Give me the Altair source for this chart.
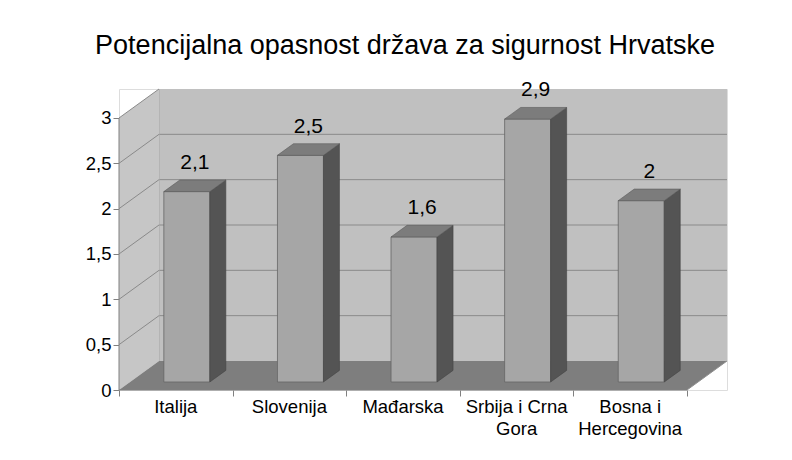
import altair as alt
import pandas as pd

# ---- data ----
categories = ["Italija", "Slovenija", "Mađarska", "Srbija i Crna\nGora", "Bosna i\nHercegovina"]
values = [2.1, 2.5, 1.6, 2.9, 2.0]
value_labels = ["2,1", "2,5", "1,6", "2,9", "2"]
y_ticks = [0, 0.5, 1, 1.5, 2, 2.5, 3]
title_text = "Potencijalna opasnost država za sigurnost Hrvatske"

# ---- pseudo-3D geometry (in scale units) ----
NCAT = len(categories)
YMAX = 3
DX = 40 / 113.6      # depth offset along x (category units)
DY = 29 / 90.67      # depth offset along y (value units)
F1 = 0.276           # bar front plane depth fraction
F2 = 0.40            # bar depth fraction
BW = 46 / 113.6      # bar width

FONT = "Liberation Sans"

xs = alt.Scale(domain=[0, NCAT + DX], nice=False, zero=False)
ys = alt.Scale(domain=[0, YMAX + DY], nice=False, zero=False)

XAX = alt.Axis(values=list(range(NCAT + 1)), labels=False, domain=False, grid=False,
               tickSize=6, tickColor="#808080", title=None)
YAX = alt.Axis(values=y_ticks, domain=False, grid=False, tickSize=6, tickColor="#808080",
               labelExpr="replace(format(datum.value, '~g'), '.', ',')", labelFont=FONT,
               labelFontSize=18.5, labelColor="#000000", labelPadding=2, title=None)


def X(f):
    return alt.X(f, scale=xs, axis=XAX)


def Y(f):
    return alt.Y(f, scale=ys, axis=YAX)


# tables
bars = []
side = []
top = []
for i, (c, v, lab) in enumerate(zip(categories, values, value_labels)):
    x1 = i + 0.5 - BW / 2 + F1 * DX
    x2 = x1 + BW
    y0 = F1 * DY
    bars.append(dict(cat=c, x1=x1, x2=x2, y1=y0, y2=v + y0,
                     lx=i + 0.5 + (F1 + F2 / 2) * DX,
                     ly=v + (F1 + F2) * DY, lab=lab))
    side.append(dict(cat=c, x=x2, y=y0, y2=v + y0))
    side.append(dict(cat=c, x=x2 + F2 * DX, y=y0 + F2 * DY, y2=v + y0 + F2 * DY))
    top.append(dict(cat=c, y=v + y0, x=x1, x2=x2))
    top.append(dict(cat=c, y=v + y0 + F2 * DY, x=x1 + F2 * DX, x2=x2 + F2 * DX))
bars = pd.DataFrame(bars)
side = pd.DataFrame(side)
top = pd.DataFrame(top)
catdf = pd.DataFrame(dict(cat=categories, cx=[i + 0.5 for i in range(NCAT)], y=[0] * NCAT))

wall = pd.DataFrame([dict(x=DX, x2=NCAT + DX, y=DY, y2=YMAX + DY)])
leftwall = pd.DataFrame([dict(x=0, y=0, y2=YMAX), dict(x=DX, y=DY, y2=YMAX + DY)])
floor = pd.DataFrame([dict(y=0, x=0, x2=NCAT), dict(y=DY, x=DX, x2=NCAT + DX)])
grid_vals = [t for t in y_ticks if t > 0]
backgrid = pd.DataFrame([dict(x=DX, x2=NCAT + DX, y=t + DY) for t in grid_vals if t < YMAX])
sidegrid = pd.DataFrame([dict(x=0, x2=DX, y=t, y2=t + DY) for t in grid_vals])
axisdf = pd.DataFrame([dict(x=0, y=0, y2=YMAX)])
frontedge = pd.DataFrame([dict(x=0, x2=NCAT, y=0)])
rightedge = pd.DataFrame([dict(x=NCAT, x2=NCAT + DX, y=0, y2=DY)])
corner = pd.DataFrame([dict(x=DX, y=DY, y2=YMAX + DY)])

back = alt.Chart(wall).mark_rect(color="#c0c0c0").encode(
    x=X("x:Q"), x2="x2:Q", y=Y("y:Q"), y2="y2:Q")

bgrid = alt.Chart(backgrid).mark_rule(color="#8a8a8a", strokeWidth=1).encode(
    x=X("x:Q"), x2="x2:Q", y=Y("y:Q"))

lwall = alt.Chart(leftwall).mark_area(color="#c6c6c6").encode(
    x=X("x:Q"), y=Y("y:Q"), y2="y2:Q")

sgrid = alt.Chart(sidegrid).mark_rule(color="#8a8a8a", strokeWidth=1).encode(
    x=X("x:Q"), x2="x2:Q", y=Y("y:Q"), y2="y2:Q")

cornr = alt.Chart(corner).mark_rule(color="#a8a8a8", strokeWidth=1).encode(
    x=X("x:Q"), y=Y("y:Q"), y2="y2:Q")

flr = alt.Chart(floor).mark_area(orient="horizontal", color="#7e7e7e").encode(
    y=Y("y:Q"), x=X("x:Q"), x2="x2:Q")

yaxis_line = alt.Chart(axisdf).mark_rule(color="#808080", strokeWidth=1).encode(
    x=X("x:Q"), y=Y("y:Q"), y2="y2:Q")
fedge = alt.Chart(frontedge).mark_rule(color="#808080", strokeWidth=1).encode(
    x=X("x:Q"), x2="x2:Q", y=Y("y:Q"))
redge = alt.Chart(rightedge).mark_rule(color="#909090", strokeWidth=1).encode(
    x=X("x:Q"), x2="x2:Q", y=Y("y:Q"), y2="y2:Q")

front = alt.Chart(bars).mark_rect(color="#a6a6a6", stroke="#666666", strokeWidth=0.8).encode(
    x=X("x1:Q"), x2="x2:Q", y=Y("y1:Q"), y2="y2:Q")

sidef = alt.Chart(side).mark_area(color="#545454", stroke="#444444", strokeWidth=0.6).encode(
    x=X("x:Q"), y=Y("y:Q"), y2="y2:Q", detail="cat:N")

topf = alt.Chart(top).mark_area(orient="horizontal", color="#7c7c7c", stroke="#5a5a5a",
                                strokeWidth=0.6).encode(
    y=Y("y:Q"), x=X("x:Q"), x2="x2:Q", detail="cat:N")

vlabels = alt.Chart(bars).mark_text(font=FONT, fontSize=21, color="#000000",
                                    baseline="alphabetic", dy=-11).encode(
    x=X("lx:Q"), y=Y("ly:Q"), text="lab:N")

clabels = alt.Chart(catdf).mark_text(
    font=FONT, fontSize=18.5, color="#000000", baseline="top", dy=8,
    lineBreak="\n", lineHeight=22).encode(
    x=X("cx:Q"), y=Y("y:Q"), text="cat:N")

chart = alt.layer(
    back, bgrid, cornr, lwall, sgrid, flr, yaxis_line, fedge, redge,
    front, sidef, topf, vlabels, clabels,
).properties(
    width=608, height=301,
    title=alt.Title(title_text, font=FONT, fontSize=27, fontWeight="normal",
                    color="#000000", anchor="middle", dx=-18, offset=19),
    autosize=alt.AutoSizeParams(type="none"),
    padding={"left": 111, "top": 81, "right": 50, "bottom": 60},
).configure_view(stroke=None).configure(background="#ffffff").configure_axis(
    labelFontSize=18.5, labelFont=FONT, labelColor="#000000"
)

chart.save("out.html", embed_options={"renderer": "svg", "actions": False})
